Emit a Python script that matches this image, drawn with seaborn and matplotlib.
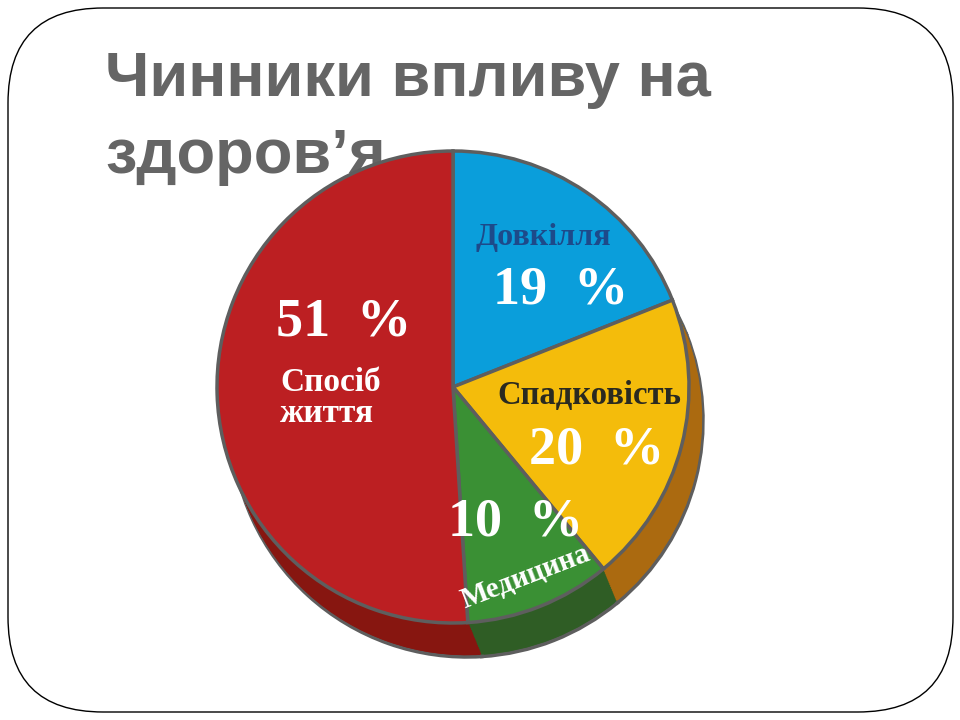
import seaborn as sns
import matplotlib.pyplot as plt
from matplotlib.patches import FancyBboxPatch

# data
title = "Чинники впливу на\nздоров’я"
categories = ["Довкілля", "Спадковість", "Медицина", "Спосіб\nжиття"]
shares = [19, 20, 10, 51]

top_colors = ["#0a9edb", "#f4bc0b", "#3a9034", "#bc1f22"]
side_colors = ["#0a6c9a", "#ab6a10", "#2f5d25", "#871610"]
name_colors = ["#1d4a8a", "#2a2a20", "white", "white"]

# label layout in pixel coords (x, y from the top), not data
pct_pos = [(561, 290), (597, 450), (516, 522), (344, 322)]
name_pos = [(543, 238), (589, 395), (526, 577), (280, 398)]
name_rot = [0, 0, 21, 0]
name_ha = ["center", "center", "center", "left"]
name_size = [23, 23.5, 21, 24]

sns.set_theme(style="white")
plt.rcParams["font.family"] = ["Liberation Serif", "DejaVu Serif"]

fig = plt.figure(figsize=(9.6, 7.2), dpi=100)
ax = fig.add_axes([0, 0, 1, 1])
ax.set_xlim(0, 960)
ax.set_ylim(0, 720)
ax.set_aspect("equal")
ax.axis("off")

H = 720
cx, cy, r = 453, H - 387, 236

# slide frame
frame = FancyBboxPatch((8, 8), 945, 704, boxstyle="round,pad=0,rounding_size=95",
                       fc="white", ec="black", lw=1.0, zorder=0)
ax.add_patch(frame)

ax.text(105, H - 50, title, ha="left", va="top", fontsize=45.5, fontweight="bold",
        color="#656565", family=["Liberation Sans", "DejaVu Sans"],
        linespacing=1.4, zorder=1)

# extruded side: stack of shifted pies
depth_x, depth_y, steps = 14, 34, 18
for i in range(steps, 0, -1):
    f = i / steps
    ax.pie(shares, colors=side_colors, startangle=90, counterclock=False,
           center=(cx + depth_x * f, cy - depth_y * f), radius=r,
           wedgeprops=dict(lw=2.5 if i == steps else 0, ec="#5e5e5e"),
           frame=True)
ax.pie(shares, colors=top_colors, startangle=90, counterclock=False,
       center=(cx, cy), radius=r,
       wedgeprops=dict(lw=2.5, ec="#5e5e5e"), frame=True)
ax.set_xlim(0, 960)
ax.set_ylim(0, 720)
ax.axis("off")

for i, (cat, val) in enumerate(zip(categories, shares)):
    px, py = pct_pos[i]
    ax.text(px, H - py, f"{val}  %", ha="center", va="center", fontsize=39,
            fontweight="bold", color="white", zorder=5)
    nx, ny = name_pos[i]
    ax.text(nx, H - ny, cat, ha=name_ha[i], va="center", fontsize=name_size[i],
            fontweight="bold", color=name_colors[i], rotation=name_rot[i],
            linespacing=1.0, zorder=5)

fig.savefig("out.png", dpi=100)
